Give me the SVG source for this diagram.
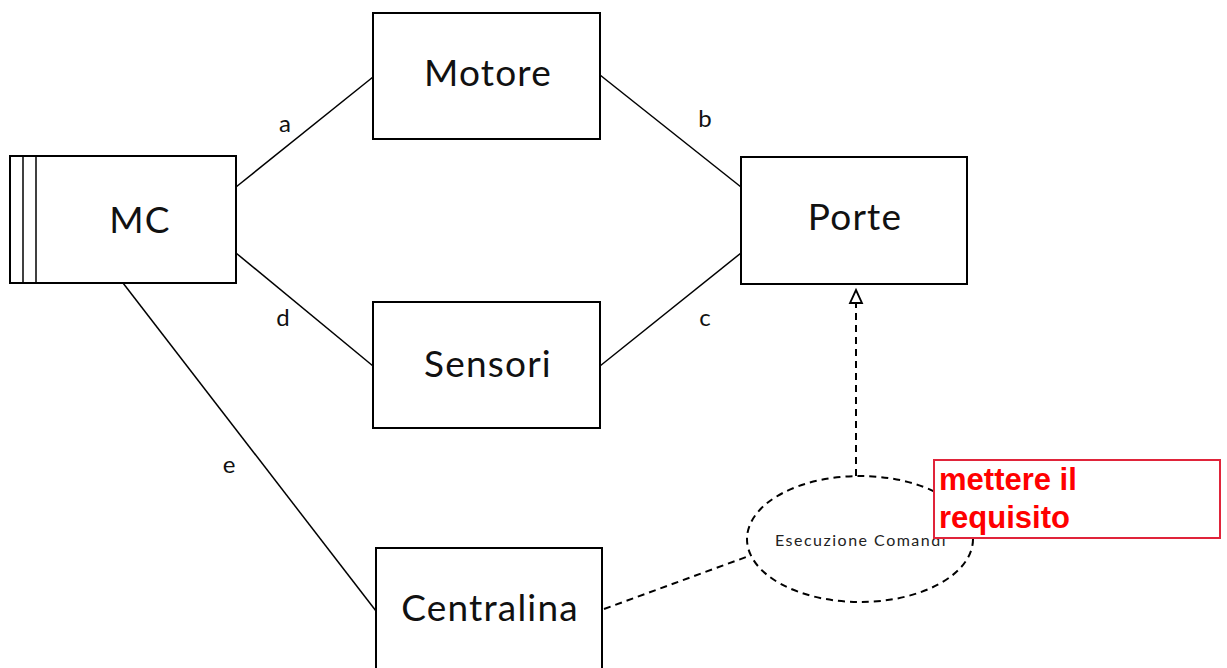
<svg xmlns="http://www.w3.org/2000/svg" width="1227" height="668" viewBox="0 0 1227 668">
<defs>
<style>
.box{fill:#fff;stroke:#000;stroke-width:2}
.lbl{font-family:Lato,"Liberation Sans",sans-serif;font-size:37px;letter-spacing:1.2px;fill:#111;text-anchor:middle}
.edge{stroke:#000;stroke-width:1.5;fill:none}
.dash{stroke:#000;stroke-width:2;fill:none;stroke-dasharray:7,5}
.el{font-family:Lato,"Liberation Sans",sans-serif;font-size:24px;fill:#111;text-anchor:middle}
</style>
</defs>
<rect width="1227" height="668" fill="#fff"/>
<g id="connectors">
<line class="edge" x1="236" y1="187" x2="373" y2="77"/>
<line class="edge" x1="600" y1="75" x2="741" y2="187"/>
<line class="edge" x1="236" y1="253" x2="373" y2="366"/>
<line class="edge" x1="600" y1="366" x2="741" y2="253"/>
<line class="edge" x1="123" y1="283" x2="376" y2="611"/>
<line class="dash" x1="604" y1="609" x2="749" y2="556"/>
<line class="dash" x1="856" y1="476" x2="856" y2="303"/>
<polygon points="856,290 862,303 850,303" fill="#fff" stroke="#000" stroke-width="1.8" stroke-linejoin="miter"/>
<text class="el" x="285" y="132">a</text>
<text class="el" x="705" y="127">b</text>
<text class="el" x="283" y="326">d</text>
<text class="el" x="705" y="326">c</text>
<text class="el" x="229" y="473">e</text>
</g>
<g id="mc">
<rect class="box" x="10" y="156" width="226" height="127"/>
<line class="edge" x1="23" y1="156" x2="23" y2="283" stroke-width="2"/>
<line class="edge" x1="36" y1="156" x2="36" y2="283" stroke-width="2"/>
<text class="lbl" x="140" y="233" font-size="38" letter-spacing="3">MC</text>
</g>
<g id="motore">
<rect class="box" x="373" y="13" width="227" height="126"/>
<text class="lbl" x="488" y="86">Motore</text>
</g>
<g id="porte">
<rect class="box" x="741" y="157" width="226" height="127"/>
<text class="lbl" x="855" y="230">Porte</text>
</g>
<g id="sensori">
<rect class="box" x="373" y="302" width="227" height="126"/>
<text class="lbl" x="488" y="377">Sensori</text>
</g>
<g id="centralina">
<rect class="box" x="376" y="548" width="226" height="130"/>
<text class="lbl" x="490" y="621">Centralina</text>
</g>
<g id="esecuzione">
<ellipse cx="860" cy="539" rx="113" ry="63" fill="#fff" stroke="#000" stroke-width="2" stroke-dasharray="7,5"/>
<text x="861" y="546" font-family="Lato,'Liberation Sans',sans-serif" font-size="16" letter-spacing="1.5" fill="#222" text-anchor="middle">Esecuzione Comandi</text>
</g>
<g id="note">
<rect x="934" y="460" width="286" height="78" fill="#fff" stroke="#e0243a" stroke-width="2"/>
<text x="939" y="490" font-family="'Liberation Sans',Arial,sans-serif" font-size="31" font-weight="bold" fill="#ff0000">mettere il</text>
<text x="939" y="528" font-family="'Liberation Sans',Arial,sans-serif" font-size="31" font-weight="bold" fill="#ff0000">requisito</text>
</g>
</svg>
